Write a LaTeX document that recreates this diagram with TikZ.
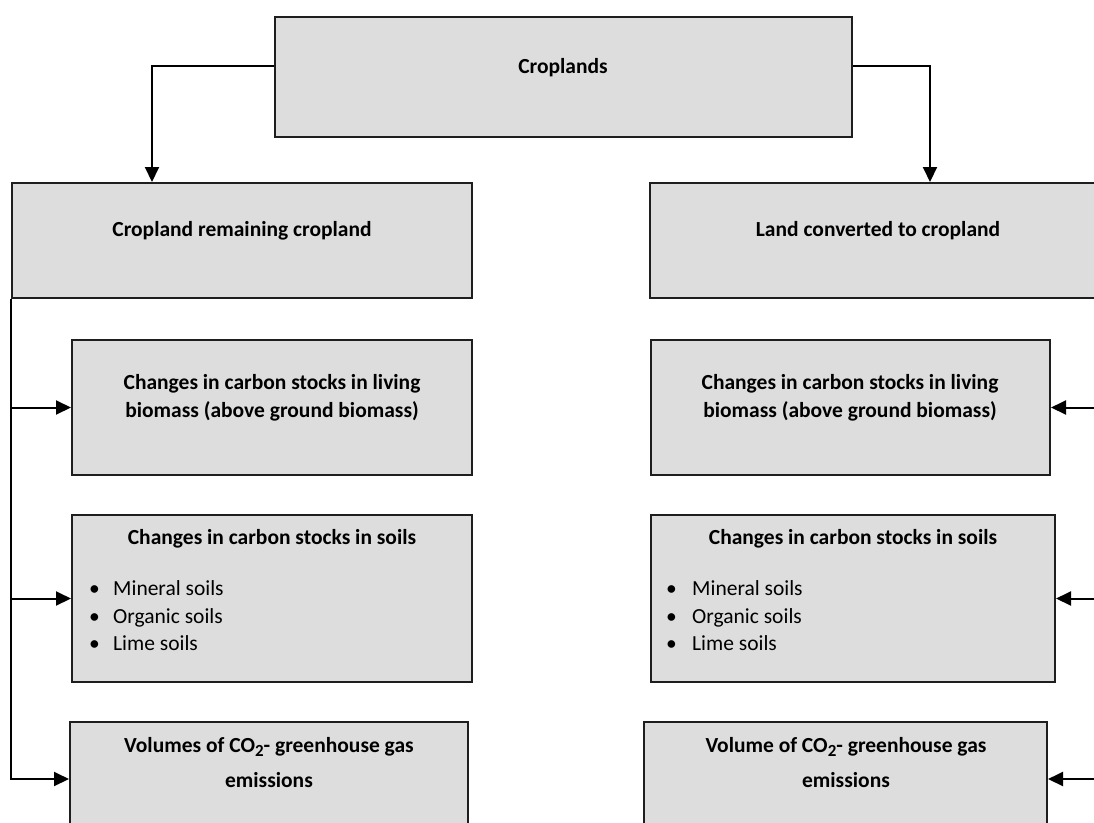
\documentclass[tikz,border=0pt]{standalone}
\usepackage{fontspec}
\setmainfont{Carlito}
\usetikzlibrary{fit,arrows.meta}
\definecolor{boxfill}{HTML}{DDDDDD}
\definecolor{boxline}{HTML}{1E1E1E}
\newcommand{\cotwo}{CO\raisebox{-0.35ex}{\fontsize{17}{17}\selectfont 2}}
\tikzset{
  box/.style={draw=boxline, fill=boxfill, line width=2pt, inner sep=0pt},
  hd/.style={font=\fontsize{21.5}{28}\selectfont\bfseries, align=center, inner sep=0pt, text=black},
  bl/.style={font=\fontsize{21.5}{27.5}\selectfont, align=left, anchor=west, inner sep=0pt, text=black},
  arr/.style={line width=2pt, -{Triangle[length=15pt,width=14pt]}},
  ln/.style={line width=2pt}
}
\begin{document}
\begin{tikzpicture}[x=1pt,y=-1pt]
\useasboundingbox (0,0) rectangle (1094,822);
\clip (0,0) rectangle (1094,822);
% boxes
\node[box, fit={(275,17) (852,137)}] (top) {};
\node[box, fit={(12,183) (472,298)}] (crc) {};
\node[box, fit={(650,183) (1106,298)}] (lcc) {};
\node[box, fit={(72,340) (472,475)}] (la) {};
\node[box, fit={(72,515) (472,682)}] (lb) {};
\node[box, fit={(70,722) (468,840)}] (lc) {};
\node[box, fit={(651,340) (1050,475)}] (ra) {};
\node[box, fit={(651,515) (1055,682)}] (rb) {};
\node[box, fit={(644,722) (1047,840)}] (rc) {};
% texts
\node[hd] (ttop) at (563,68) {Croplands};
\node[hd] (tcrc) at (242,231) {Cropland remaining cropland};
\node[hd] (tlcc) at (878,231) {Land converted to cropland};
\node[hd] (tla) at (272,398) {Changes in carbon stocks in living\\biomass (above ground biomass)};
\node[hd] (tra) at (850,398) {Changes in carbon stocks in living\\biomass (above ground biomass)};
\node[hd] (tlb) at (272,539) {Changes in carbon stocks in soils};
\node[hd] (trb) at (853,539) {Changes in carbon stocks in soils};
\node[bl] (blb) at (89,616) {\makebox[24pt][l]{•}Mineral soils\\\makebox[24pt][l]{•}Organic soils\\\makebox[24pt][l]{•}Lime soils};
\node[bl] (brb) at (666,616) {\makebox[26pt][l]{•}Mineral soils\\\makebox[26pt][l]{•}Organic soils\\\makebox[26pt][l]{•}Lime soils};
\node[hd] (tlc) at (269,763) {Volumes of \cotwo- greenhouse gas\\[7pt]emissions};
\node[hd] (trc) at (846,763) {Volume of \cotwo- greenhouse gas\\[7pt]emissions};
% arrow end points on the bottom boxes
\coordinate (lcin) at ([yshift=2pt]lc.west);
\coordinate (rcin) at ([yshift=2pt]rc.east);
% connectors from top
\draw[arr] ([yshift=11pt]top.west) -| ([xshift=-90pt]crc.north);
\draw[arr] ([yshift=11pt]top.east) -| ([xshift=52pt]lcc.north);
% left trunk
\draw[arr] (crc.south west) |- (lcin);
\draw[arr] (crc.south west |- la.west) -- (la.west);
\draw[arr] (crc.south west |- lb.west) -- (lb.west);
% right trunk
\draw[ln] (lcc.south east) -- (lcc.south east |- rcin);
\draw[arr] (lcc.south east |- ra.east) -- (ra.east);
\draw[arr] (lcc.south east |- rb.east) -- (rb.east);
\draw[arr] (lcc.south east |- rcin) -- (rcin);
\end{tikzpicture}
\end{document}
